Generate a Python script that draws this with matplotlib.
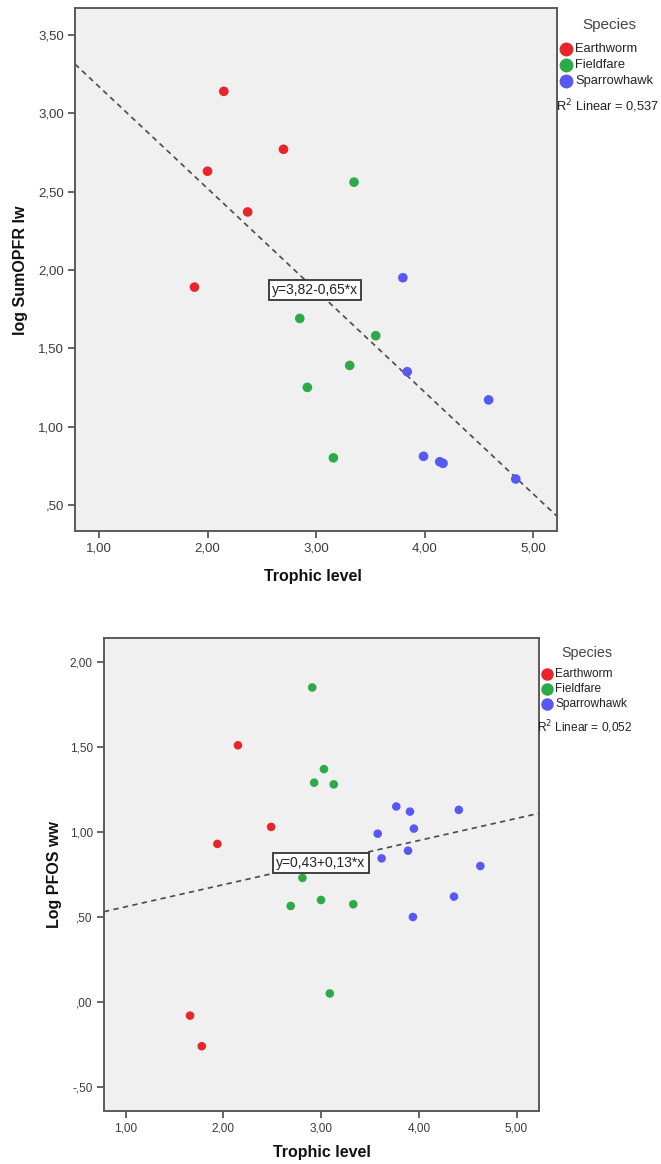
import matplotlib
matplotlib.use("Agg")
import matplotlib.pyplot as plt
from matplotlib.lines import Line2D
from matplotlib.ticker import FuncFormatter, MultipleLocator

plt.rcParams['font.family'] = ['Liberation Sans', 'DejaVu Sans']

W, H = 661, 1164
DPI = 100

species = ["Earthworm", "Fieldfare", "Sparrowhawk"]
colors = {"Earthworm": "#E8252B", "Fieldfare": "#2CAA48", "Sparrowhawk": "#5858F2"}

# --- Panel A: log SumOPFR lw vs trophic level ---
opfr_earthworm_x = [2.15, 2.70, 2.00, 2.37, 1.88]
opfr_earthworm_y = [3.14, 2.77, 2.63, 2.37, 1.89]
opfr_fieldfare_x = [3.35, 2.85, 3.55, 3.31, 2.92, 3.16]
opfr_fieldfare_y = [2.56, 1.69, 1.58, 1.39, 1.25, 0.80]
opfr_sparrowhawk_x = [3.80, 3.84, 4.59, 3.99, 4.14, 4.17, 4.84]
opfr_sparrowhawk_y = [1.95, 1.35, 1.17, 0.81, 0.775, 0.765, 0.665]
opfr_fit = (3.82, -0.65)
opfr_r2 = "0,537"

# --- Panel B: Log PFOS ww vs trophic level ---
pfos_earthworm_x = [2.15, 2.49, 1.94, 1.66, 1.78]
pfos_earthworm_y = [1.51, 1.03, 0.93, -0.08, -0.26]
pfos_fieldfare_x = [2.91, 3.03, 2.93, 3.13, 2.81, 2.69, 3.00, 3.33, 3.09]
pfos_fieldfare_y = [1.85, 1.37, 1.29, 1.28, 0.73, 0.565, 0.60, 0.575, 0.05]
pfos_sparrowhawk_x = [3.77, 3.91, 4.41, 3.58, 3.95, 3.89, 3.62, 4.63, 4.36, 3.94]
pfos_sparrowhawk_y = [1.15, 1.12, 1.13, 0.99, 1.02, 0.89, 0.845, 0.80, 0.62, 0.50]
pfos_fit = (0.43, 0.13)
pfos_r2 = "0,052"


def px(x, y):
    return x / W, 1 - y / H


def spss_fmt(v, pos=None):
    s = f"{v:.2f}".replace(".", ",")
    if s.startswith("0,"):
        s = s[1:]
    elif s.startswith("-0,"):
        s = "-" + s[2:]
    if s == "-,00":
        s = ",00"
    return s


fig = plt.figure(figsize=(W / DPI, H / DPI), dpi=DPI)
fig.patch.set_facecolor("white")


def panel(rect, data, fit, r2, xlim, ylim, yticks_step, ylabel, ylabel_xy,
          xlabel_xy, eq_xy, tick_fs, marker_s, eq_label, legend_cfg):
    ax = fig.add_axes(rect)
    ax.set_facecolor("#F0F0F0")
    for sp in ax.spines.values():
        sp.set_color("#5A5A5A")
        sp.set_linewidth(1.4)
    for name, (xs, ys) in zip(species, data):
        ax.scatter(xs, ys, s=marker_s, color=colors[name], edgecolors="none",
                   zorder=3)
    a, b = fit
    x0, x1 = xlim
    ax.plot([x0, x1], [a + b * x0, a + b * x1], linestyle=(0, (3.2, 2.6)),
            color="#4A4A4A", linewidth=1.2, zorder=2)
    ax.set_xlim(xlim)
    ax.set_ylim(ylim)
    ax.xaxis.set_major_locator(MultipleLocator(1.0))
    ax.yaxis.set_major_locator(MultipleLocator(yticks_step))
    ax.xaxis.set_major_formatter(FuncFormatter(spss_fmt))
    ax.yaxis.set_major_formatter(FuncFormatter(spss_fmt))
    ax.tick_params(axis="both", direction="out", length=5, width=1.2,
                   color="#4A4A4A", labelsize=tick_fs, labelcolor="#3A3A3A",
                   pad=3)
    ax.text(eq_xy[0], eq_xy[1], eq_label, ha="center", va="center",
            fontsize=10, color="#222222", zorder=4,
            bbox=dict(boxstyle="square,pad=0.22", facecolor="white",
                      edgecolor="#333333", linewidth=1.3))
    fig.text(*px(*ylabel_xy), ylabel, rotation=90, ha="center", va="center",
             fontsize=11.5, fontweight="bold", color="#111111")
    fig.text(*px(*xlabel_xy), "Trophic level", ha="center", va="center",
             fontsize=11.5, fontweight="bold", color="#111111")

    title_xy, mx, ys_leg, tx, title_fs, txt_fs, msize, r2_xy = legend_cfg
    fig.text(*px(*title_xy), "Species", ha="center", va="center",
             fontsize=title_fs, color="#444444")
    for name, yy in zip(species, ys_leg):
        fx, fy = px(mx, yy)
        fig.add_artist(Line2D([fx], [fy], marker="o", markersize=msize,
                              color=colors[name], markeredgecolor="none",
                              linestyle="none", transform=fig.transFigure))
        fig.text(*px(tx, yy), name, ha="left", va="center", fontsize=txt_fs,
                 color="#222222")
    fig.text(*px(*r2_xy), "R$^2$ Linear = " + r2, ha="left", va="center",
             fontsize=txt_fs, color="#222222")
    return ax


panel([75 / W, 1 - 531 / H, 482 / W, 523 / H],
      [(opfr_earthworm_x, opfr_earthworm_y),
       (opfr_fieldfare_x, opfr_fieldfare_y),
       (opfr_sparrowhawk_x, opfr_sparrowhawk_y)],
      opfr_fit, opfr_r2, (0.779, 5.22), (0.333, 3.672), 0.5,
      "log SumOPFR lw", (21, 270), (313, 576), (2.99, 1.87), 9.5, 48,
      "y=3,82-0,65*x",
      ((609, 25), 566, [49, 64.5, 81], 575, 11, 9.3, 10, (556, 106)))

panel([104 / W, 1 - 1111 / H, 435 / W, 473 / H],
      [(pfos_earthworm_x, pfos_earthworm_y),
       (pfos_fieldfare_x, pfos_fieldfare_y),
       (pfos_sparrowhawk_x, pfos_sparrowhawk_y)],
      pfos_fit, pfos_r2, (0.78, 5.23), (-0.641, 2.141), 0.5,
      "Log PFOS ww", (55, 875), (322, 1152), (3.0, 0.818), 8.5, 38,
      "y=0,43+0,13*x",
      ((587, 653), 547, [674, 689, 704], 555, 10.3, 8.6, 9, (537, 727)))

fig.savefig("out.png", dpi=DPI)
